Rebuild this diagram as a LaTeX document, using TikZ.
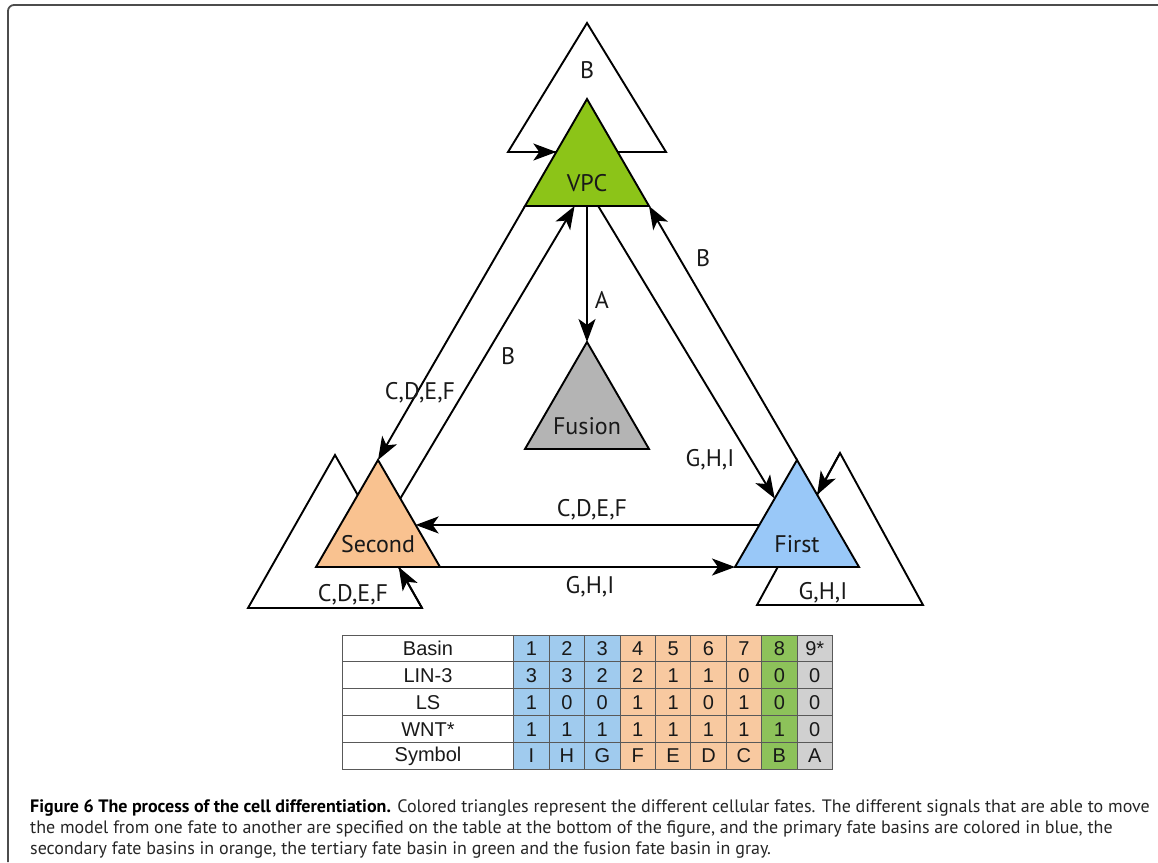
\documentclass[tikz,border=0pt]{standalone}
\usepackage{fontspec}
\setmainfont{PT Sans}
\newfontfamily\tablefont{Liberation Sans}
\usetikzlibrary{arrows.meta,calc}

\definecolor{vpcgreen}{HTML}{8CC418}
\definecolor{fusiongray}{HTML}{B4B4B4}
\definecolor{secondorange}{HTML}{F9C290}
\definecolor{firstblue}{HTML}{99C8F8}
\definecolor{cellblue}{HTML}{A0CBEE}
\definecolor{cellorange}{HTML}{F8C9A0}
\definecolor{cellgreen}{HTML}{8DC25A}
\definecolor{cellgray}{HTML}{D0D0D0}

\begin{document}
\begin{tikzpicture}[x=1pt,y=-1pt,
    fate/.style={draw=black, line width=1.9pt, line join=miter},
    loopbox/.style={draw=black, fill=white, line width=1.9pt},
    arr/.style={line width=1.9pt, -{Stealth[length=23pt,width=17pt,inset=6pt]}},
    lbl/.style={inner sep=0pt, text=black!90, font=\fontsize{24}{27}\selectfont},
    cell/.style={draw=black!65, line width=1pt, inner sep=0pt, anchor=north west,
        minimum height=26.9pt, text=black!90, font=\tablefont\fontsize{20}{22}\selectfont},
    frame/.style={draw=black!70, line width=1.8pt, rounded corners=6pt}]
% Parameters
\def\halfw{62}
\def\triheight{107}
\def\tabx{341.7}
\def\taby{634.5}
\def\rowh{26.9}
\def\colw{35.4}

\useasboundingbox (0,0) rectangle (1158,862);

% Frame of the figure
\draw[frame] (1158,5) -- (8,5) -- (8,862);

% Outer triangles of the self loops
\foreach \name/\ax/\ay/\hw/\h in {outv/587/23/79/129, outs/335/455/87/153, outf/840/453/83/152} {
    \coordinate (\name-t) at (\ax,\ay);
    \coordinate (\name-l) at (\ax-\hw,\ay+\h);
    \coordinate (\name-r) at (\ax+\hw,\ay+\h);
    \draw[loopbox] (\name-t) -- (\name-l) -- (\name-r) -- cycle;
}

% Fate triangles
\foreach \name/\ax/\ay/\col/\txt in {vpc/587/99/vpcgreen/VPC, fusion/587/342/fusiongray/Fusion,
        secd/378/460/secondorange/Second, first/797/460/firstblue/First} {
    \coordinate (\name-t) at (\ax,\ay);
    \coordinate (\name-l) at (\ax-\halfw,\ay+\triheight);
    \coordinate (\name-r) at (\ax+\halfw,\ay+\triheight);
    \draw[fate, fill=\col] (\name-t) -- (\name-l) -- (\name-r) -- cycle;
    \node[lbl] (\name) at (\ax,\ay+84) {\txt};
}

% Self loops
\coordinate (loopv) at (intersection of vpc-t--vpc-l and outv-l--outv-r);
\coordinate (loops) at (intersection of secd-l--secd-r and outs-t--outs-r);
\coordinate (loopf) at (intersection of first-t--first-r and outf-t--outf-l);
\draw[arr] (outv-l) -- (loopv);
\draw[arr] (outs-r) -- (loops);
\draw[arr] (outf-t) -- (loopf);
\node[lbl] (loopv-lbl) at (587,70) {B};
\node[lbl] (loops-lbl) at (353,595) {C,D,E,F};
\node[lbl] (loopf-lbl) at (823,593) {G,H,I};

% Transitions between fates
\coordinate (vpc-b1) at ($(vpc-l)!0.40!(vpc-r)$);
\coordinate (vpc-b) at ($(vpc-l)!0.5!(vpc-r)$);
\coordinate (vpc-b2) at ($(vpc-l)!0.59!(vpc-r)$);
\coordinate (secd-up) at ($(secd-t)!0.36!(secd-r)$);
\coordinate (secd-in) at ($(secd-t)!0.607!(secd-r)$);
\coordinate (first-up) at ($(first-t)!0.36!(first-l)$);
\coordinate (first-out) at ($(first-t)!0.607!(first-l)$);
\draw[arr] (vpc-l) -- (secd-t);
\draw[arr] (secd-up) -- (vpc-b1);
\draw[arr] (vpc-b) -- (fusion-t);
\draw[arr] (vpc-b2) -- (first-up);
\draw[arr] (first-t) -- (vpc-r);
\draw[arr] (first-out) -- (secd-in);
\draw[arr] (secd-r) -- (first-l);
\node[lbl] (lbl-vs) at (420,393) {C,D,E,F};
\node[lbl] (lbl-sv) at (508,356) {B};
\node[lbl] (lbl-vx) at (602,300) {A};
\node[lbl] (lbl-vf) at (710,460) {G,H,I};
\node[lbl] (lbl-fv) at (703,258) {B};
\node[lbl] (lbl-fs) at (592,510) {C,D,E,F};
\node[lbl] (lbl-sf) at (590,587) {G,H,I};

% Table of the basins
\foreach \lab [count=\r] in {Basin,LIN-3,LS,WNT*,Symbol} {
    \node[cell, minimum width=171.6pt] (row\r) at (\tabx,\taby+\r*\rowh-\rowh) {\lab};
}
\foreach \vals [count=\r] in {{1,2,3,4,5,6,7,8,9*},{3,3,2,2,1,1,0,0,0},{1,0,0,1,1,0,1,0,0},
        {1,1,1,1,1,1,1,1,0},{I,H,G,F,E,D,C,B,A}} {
    \foreach \v [count=\c] in \vals {
        % Determine color
        \ifnum\c<4\relax
            \def\cellcol{cellblue}
        \else\ifnum\c<8\relax
            \def\cellcol{cellorange}
        \else\ifnum\c=8\relax
            \def\cellcol{cellgreen}
        \else
            \def\cellcol{cellgray}
        \fi\fi\fi
        \node[cell, fill=\cellcol, minimum width=\colw pt] (cell-\r-\c)
            at (\tabx+171.6+\c*\colw-\colw,\taby+\r*\rowh-\rowh) {\v};
    }
}

% Caption
\node[anchor=north west, inner sep=0pt, align=left, text=black!85,
      font=\fontsize{18}{21}\selectfont] (caption) at (30,799)
    {\textbf{\color{black}Figure 6 The process of the cell differentiation.} Colored triangles represent the different cellular fates. The different signals that are able to move\\
     the model from one fate to another are specified on the table at the bottom of the figure, and the primary fate basins are colored in blue, the\\
     secondary fate basins in orange, the tertiary fate basin in green and the fusion fate basin in gray.};
\end{tikzpicture}
\end{document}
